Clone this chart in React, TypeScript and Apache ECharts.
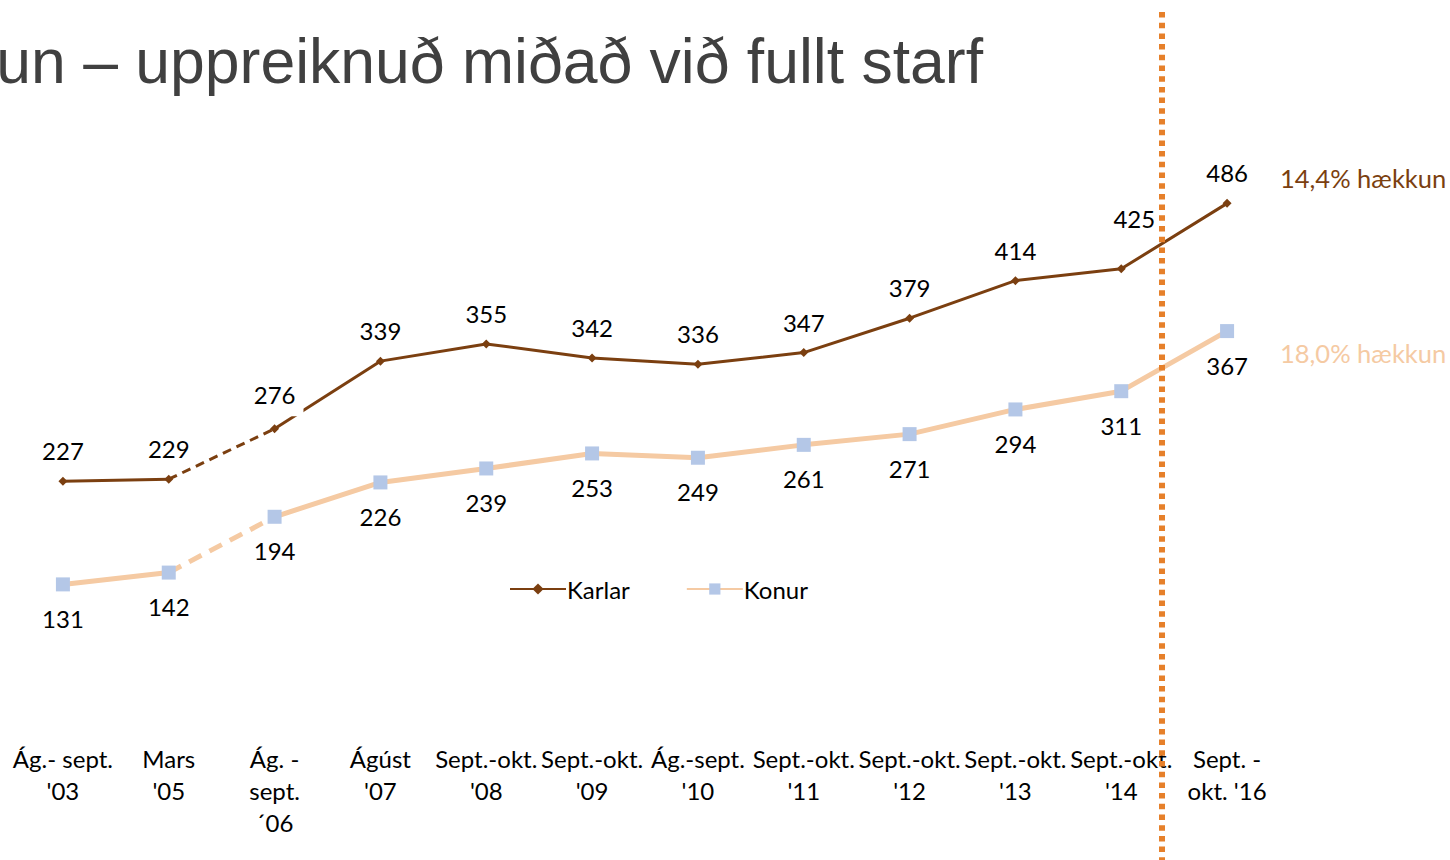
import React, { useEffect, useRef } from "react";
import * as echarts from "echarts";

const categories = [
  "Ág.- sept.\n'03",
  "Mars\n'05",
  "Ág. -\nsept.\n´06",
  "Ágúst\n'07",
  "Sept.-okt.\n'08",
  "Sept.-okt.\n'09",
  "Ág.-sept.\n'10",
  "Sept.-okt.\n'11",
  "Sept.-okt.\n'12",
  "Sept.-okt.\n'13",
  "Sept.-okt.\n'14",
  "Sept. -\nokt. '16",
];
const karlar = [227, 229, 276, 339, 355, 342, 336, 347, 379, 414, 425, 486];
const konur = [131, 142, 194, 226, 239, 253, 249, 261, 271, 294, 311, 367];
const titleText = "un – uppreiknuð miðað við fullt starf";
const noteKarlar = "14,4% hækkun";
const noteKonur = "18,0% hækkun";

const BROWN = "#7b3f10";
const PEACH = "#f5caa3";
const BLUE = "#b4c7e7";
const ORANGE = "#e6802a";
const FONT = "Lato";
const FS = 24;

const pick = (arr: number[], idx: number[]) =>
  arr.map((v, i) => (idx.includes(i) ? v : "-"));

export default function App() {
  const ref = useRef<HTMLDivElement>(null);
  useEffect(() => {
    if (!ref.current) return;
    const chart = echarts.init(ref.current, null, { renderer: "svg" });
    const all = categories.map((_, i) => i);
    const firstPart = [0, 1];
    const lastPart = all.filter((i) => i >= 2);
    const dashPart = [1, 2];

    const karlarData = (idx: number[]) =>
      karlar.map((v, i) => {
        if (!idx.includes(i)) return "-";
        if (i === 2)
          return {
            value: v,
            label: { backgroundColor: "#fff", padding: [2, 8, 10, 8], offset: [0, 6] },
          };
        if (i === 10) return { value: v, label: { offset: [13, -20] } };
        return v;
      });

    const karlarCommon = {
      name: "Karlar",
      type: "line",
      symbol: "diamond",
      symbolSize: 9,
      itemStyle: { color: BROWN },
      lineStyle: { color: BROWN, width: 3 },
      label: {
        show: true,
        position: "top",
        distance: 14,
        color: "#000",
        fontFamily: FONT,
        fontSize: FS,
      },
      z: 3,
    };
    const konurCommon = {
      name: "Konur",
      type: "line",
      symbol: "rect",
      symbolSize: 14,
      itemStyle: { color: BLUE },
      lineStyle: { color: PEACH, width: 5 },
      label: {
        show: true,
        position: "bottom",
        distance: 15,
        color: "#000",
        fontFamily: FONT,
        fontSize: FS,
      },
      z: 2,
    };

    chart.setOption({
      animation: false,
      textStyle: { fontFamily: FONT },
      grid: { left: 10, right: 170, top: 81, bottom: 135, containLabel: false },
      legend: {
        data: ["Karlar", "Konur"],
        left: 504,
        top: 572,
        itemWidth: 56,
        itemHeight: 14,
        itemGap: 56,
        textStyle: { fontFamily: FONT, fontSize: FS, color: "#000", padding: [0, 0, 0, -4] },
      },
      xAxis: {
        type: "category",
        data: categories,
        boundaryGap: true,
        axisLine: { show: false },
        axisTick: { show: false },
        axisLabel: {
          interval: 0,
          margin: 17,
          color: "#000",
          fontFamily: FONT,
          fontSize: FS,
          lineHeight: 32,
          verticalAlign: "top",
        },
      },
      yAxis: {
        type: "value",
        min: 0,
        max: 600,
        show: false,
        splitLine: { show: false },
      },
      series: [
        { ...karlarCommon, data: karlarData(firstPart) },
        { ...karlarCommon, data: karlarData(lastPart) },
        {
          ...karlarCommon,
          data: pick(karlar, dashPart),
          showSymbol: false,
          label: { show: false },
          lineStyle: { color: BROWN, width: 3, type: [9, 6] },
          z: 1,
        },
        { ...konurCommon, data: pick(konur, firstPart) },
        { ...konurCommon, data: pick(konur, lastPart) },
        {
          ...konurCommon,
          data: pick(konur, dashPart),
          showSymbol: false,
          label: { show: false },
          lineStyle: { color: PEACH, width: 5, type: [14, 9] },
          z: 1,
        },
      ],
      graphic: [
        {
          type: "line",
          shape: { x1: 1162, y1: 12, x2: 1162, y2: 860 },
          style: { stroke: ORANGE, lineWidth: 6, lineDash: [5.5, 5.2] },
          z: 10,
        },
        {
          type: "text",
          x: 983,
          y: 61,
          style: {
            text: titleText,
            align: "right",
            verticalAlign: "middle",
            fontFamily: "Liberation Sans",
            fontSize: 62.5,
            fill: "#404040",
          },
        },
        {
          type: "text",
          x: 1280,
          y: 178,
          style: {
            text: noteKarlar,
            verticalAlign: "middle",
            fontFamily: FONT,
            fontSize: 25.5,
            fill: BROWN,
          },
        },
        {
          type: "text",
          x: 1280,
          y: 353,
          style: {
            text: noteKonur,
            verticalAlign: "middle",
            fontFamily: FONT,
            fontSize: 25.5,
            fill: PEACH,
          },
        },
      ],
    });
    return () => chart.dispose();
  }, []);
  return <div ref={ref} style={{ width: 1450, height: 860, position: "absolute", left: 0, top: 0 }} />;
}
